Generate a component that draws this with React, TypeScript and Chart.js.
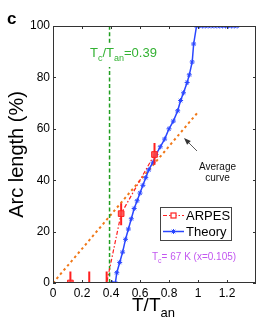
import React, { useEffect, useRef } from 'react';
import { Chart, registerables } from 'chart.js';

Chart.register(...registerables);

// ---------- data ----------
const theoryX = [0.41, 0.43, 0.44, 0.46, 0.48, 0.5, 0.52, 0.54, 0.56, 0.58, 0.6, 0.62, 0.64, 0.66, 0.69, 0.71, 0.74, 0.77, 0.8, 0.83, 0.86, 0.88, 0.9, 0.925, 0.94, 0.96, 0.97, 0.99, 1.01, 1.03, 1.05, 1.07, 1.09, 1.11, 1.13, 1.15, 1.17, 1.19, 1.21, 1.23, 1.25, 1.27];
const theoryY = [0, 0, 4, 8, 12, 17, 21, 25, 29, 32, 35, 38, 41, 44, 47, 50, 53, 56, 60, 63, 67, 71, 74, 78, 81, 86, 93, 100, 100, 100, 100, 100, 100, 100, 100, 100, 100, 100, 100, 100, 100, 100];

const arpesX = [0.12, 0.25, 0.37, 0.47, 0.7];
const arpesY = [0, 0, 0, 27, 50];
const arpesLo = [0, 0, 0, 22.5, 46];
const arpesHi = [4.5, 4.5, 4.5, 31, 54.5];
const arpesMarker = [true, false, false, true, true];

const averageX = [0, 1.0];
const averageY = [0, 66.5];

const tcRatio = 0.39;
const tcLineY = [0, 84, null, 93.5, 100];

const xTicks = [0, 0.2, 0.4, 0.6, 0.8, 1, 1.2];
const yTicks = [0, 20, 40, 60, 80, 100];
const xMax = 1.4;
const yMax = 100;

// ---------- styles ----------
const FONT = '"Liberation Sans", Arial, Helvetica, sans-serif';
const BLUE = '#2a46ff';
const RED = '#ff2020';
const ORANGE = '#f07818';
const GREEN = '#1f9e1f';
const GREEN_TEXT = '#33b233';
const PURPLE = '#c257f0';
const AXIS = '#333333';

type Part = { t: string; sub?: boolean };

function drawRich(ctx: CanvasRenderingContext2D, parts: Part[], x: number, y: number, size: number, color: string) {
  let cx = x;
  ctx.textAlign = 'left';
  ctx.textBaseline = 'alphabetic';
  ctx.fillStyle = color;
  for (const p of parts) {
    const fs = p.sub ? Math.round(size * 0.7) : size;
    ctx.font = `${fs}px ${FONT}`;
    ctx.fillText(p.t, cx, p.sub ? y + size * 0.3 : y);
    cx += ctx.measureText(p.t).width;
  }
}

function drawAsterisk(ctx: CanvasRenderingContext2D, x: number, y: number, r: number) {
  ctx.beginPath();
  ctx.moveTo(x - r, y); ctx.lineTo(x + r, y);
  ctx.moveTo(x, y - r); ctx.lineTo(x, y + r);
  const d = r * Math.SQRT1_2;
  ctx.moveTo(x - d, y - d); ctx.lineTo(x + d, y + d);
  ctx.moveTo(x - d, y + d); ctx.lineTo(x + d, y - d);
  ctx.stroke();
}

const decorPlugin = {
  id: 'decor',
  afterDatasetsDraw(chart: any) {
    const { ctx, chartArea: a, scales } = chart;
    const xs = scales.x;
    const ys = scales.y;
    ctx.save();

    // box
    ctx.strokeStyle = AXIS;
    ctx.lineWidth = 1;
    ctx.setLineDash([]);
    ctx.strokeRect(a.left + 0.5, a.top + 0.5, a.right - a.left - 1, a.bottom - a.top - 1);

    // inward ticks
    const tl = 3;
    ctx.beginPath();
    for (const v of xTicks) {
      const px = Math.round(xs.getPixelForValue(v)) + 0.5;
      ctx.moveTo(px, a.bottom); ctx.lineTo(px, a.bottom - tl);
      ctx.moveTo(px, a.top); ctx.lineTo(px, a.top + tl);
    }
    for (const v of yTicks) {
      const py = Math.round(ys.getPixelForValue(v)) + 0.5;
      ctx.moveTo(a.left, py); ctx.lineTo(a.left + tl, py);
      ctx.moveTo(a.right, py); ctx.lineTo(a.right - tl, py);
    }
    ctx.stroke();

    // panel letter
    ctx.fillStyle = '#000';
    ctx.font = `bold 17px ${FONT}`;
    ctx.textAlign = 'left';
    ctx.textBaseline = 'alphabetic';
    ctx.fillText('c', 7, 24);

    // axis titles
    drawRich(ctx, [{ t: 'T/T' }, { t: 'an', sub: true }], 132, 311, 19, '#000');
    ctx.save();
    ctx.translate(23, (a.top + a.bottom) / 2);
    ctx.rotate(-Math.PI / 2);
    ctx.font = `20px ${FONT}`;
    ctx.fillStyle = '#000';
    ctx.textAlign = 'center';
    ctx.textBaseline = 'alphabetic';
    ctx.fillText('Arc length (%)', 0, 0);
    ctx.restore();

    // Tc/Tan label
    drawRich(ctx, [{ t: 'T' }, { t: 'c', sub: true }, { t: '/T' }, { t: 'an', sub: true }, { t: '=0.39' }], 90, 57, 13, GREEN_TEXT);

    // Tc note
    drawRich(ctx, [{ t: 'T' }, { t: 'c', sub: true }, { t: '= 67 K (x=0.105)' }], 152, 260, 10, PURPLE);

    // Average curve annotation
    ctx.fillStyle = '#111';
    ctx.font = `10px ${FONT}`;
    ctx.textAlign = 'center';
    ctx.fillText('Average', 217.5, 169.5);
    ctx.fillText('curve', 217.5, 181);
    // arrow
    const ax0 = 197, ay0 = 151, ax1 = 184, ay1 = 138;
    ctx.strokeStyle = '#333';
    ctx.fillStyle = '#333';
    ctx.lineWidth = 0.8;
    ctx.beginPath();
    ctx.moveTo(ax0, ay0); ctx.lineTo(ax1 + 3, ay1 + 3);
    ctx.stroke();
    const ang = Math.atan2(ay1 - ay0, ax1 - ax0);
    const hl = 7, hw = 2.6;
    ctx.beginPath();
    ctx.moveTo(ax1, ay1);
    ctx.lineTo(ax1 - hl * Math.cos(ang) + hw * Math.sin(ang), ay1 - hl * Math.sin(ang) - hw * Math.cos(ang));
    ctx.lineTo(ax1 - hl * Math.cos(ang) - hw * Math.sin(ang), ay1 - hl * Math.sin(ang) + hw * Math.cos(ang));
    ctx.closePath();
    ctx.fill();

    // legend
    const lx = 160, ly = 207, lw = 71, lh = 33;
    ctx.fillStyle = '#fff';
    ctx.fillRect(lx, ly, lw, lh);
    ctx.strokeStyle = '#444';
    ctx.lineWidth = 1;
    ctx.strokeRect(lx + 0.5, ly + 0.5, lw, lh);
    // ARPES entry
    const r1 = 215.5, r2 = 231.5;
    ctx.strokeStyle = RED;
    ctx.lineWidth = 1.2;
    ctx.setLineDash([4, 2, 1.5, 2]);
    ctx.beginPath(); ctx.moveTo(163, r1); ctx.lineTo(184, r1); ctx.stroke();
    ctx.setLineDash([]);
    ctx.fillStyle = '#fff';
    ctx.fillRect(171, r1 - 2.5, 5, 5);
    ctx.strokeRect(171, r1 - 2.5, 5, 5);
    // Theory entry
    ctx.strokeStyle = BLUE;
    ctx.lineWidth = 1.5;
    ctx.beginPath(); ctx.moveTo(163, r2); ctx.lineTo(184, r2); ctx.stroke();
    ctx.lineWidth = 1;
    drawAsterisk(ctx, 173.5, r2, 2.5);
    ctx.fillStyle = '#000';
    ctx.font = `13px ${FONT}`;
    ctx.textAlign = 'left';
    ctx.textBaseline = 'middle';
    ctx.fillText('ARPES', 186, r1 + 0.5);
    ctx.fillText('Theory', 186, r2 + 0.5);

    ctx.restore();
  },
};

function fmt(v: number) {
  return String(Number(v.toFixed(2)));
}

export default function App() {
  const ref = useRef<HTMLCanvasElement | null>(null);

  useEffect(() => {
    if (!ref.current) return;

    const errData: any[] = [];
    arpesX.forEach((x, i) => {
      errData.push({ x, y: arpesLo[i] }, { x, y: arpesHi[i] }, { x, y: null });
    });

    const chart = new Chart(ref.current, {
      type: 'scatter',
      data: {
        datasets: [
          {
            label: 'ARPES',
            data: arpesX.map((x, i) => ({ x, y: arpesY[i] })),
            showLine: true,
            borderColor: RED,
            borderWidth: 1.2,
            borderDash: [4, 2, 1.5, 2],
            pointStyle: 'rect',
            pointRadius: arpesMarker.map((m) => (m ? 4 : 0)),
            pointBackgroundColor: 'rgba(255,70,70,0.85)',
            pointBorderColor: RED,
            pointBorderWidth: 1,
          },
          {
            label: 'errors',
            data: errData,
            showLine: true,
            spanGaps: false,
            borderColor: RED,
            borderWidth: 2,
            pointRadius: 0,
          },
          {
            label: 'Theory',
            data: theoryX.map((x, i) => ({ x, y: theoryY[i] })),
            showLine: true,
            borderColor: BLUE,
            borderWidth: 1.5,
            pointStyle: 'star',
            pointRadius: 2.5,
            pointBorderColor: BLUE,
            pointBorderWidth: 1,
          },
          {
            label: 'Tc',
            data: tcLineY.map((y) => ({ x: tcRatio, y })),
            showLine: true,
            spanGaps: false,
            borderColor: GREEN,
            borderWidth: 1.5,
            borderDash: [4, 2.5],
            pointRadius: 0,
          },
          {
            label: 'Average curve',
            data: averageX.map((x, i) => ({ x, y: averageY[i] })),
            showLine: true,
            borderColor: ORANGE,
            borderWidth: 2,
            borderDash: [2.5, 3],
            pointRadius: 0,
          },
        ],
      },
      options: {
        responsive: false,
        animation: false,
        layout: { padding: { top: 26, right: 17, left: 0, bottom: 0 } },
        plugins: { legend: { display: false }, tooltip: { enabled: false } },
        scales: {
          x: {
            type: 'linear',
            min: 0,
            max: xMax,
            afterBuildTicks: (s: any) => {
              s.ticks = xTicks.map((value) => ({ value }));
            },
            afterFit: (s: any) => {
              s.height = 44;
            },
            ticks: {
              autoSkip: false,
              maxRotation: 0,
              padding: 3,
              color: '#000',
              font: { family: FONT, size: 12 },
              callback: (v: any) => fmt(Number(v)),
            },
            grid: { display: false, drawTicks: false },
            border: { display: false },
          },
          y: {
            type: 'linear',
            min: 0,
            max: yMax,
            afterBuildTicks: (s: any) => {
              s.ticks = yTicks.map((value) => ({ value }));
            },
            afterFit: (s: any) => {
              s.width = 53;
            },
            ticks: {
              autoSkip: false,
              padding: 3,
              color: '#000',
              font: { family: FONT, size: 12 },
              callback: (v: any) => fmt(Number(v)),
            },
            grid: { display: false, drawTicks: false },
            border: { display: false },
          },
        },
      },
      plugins: [decorPlugin],
    } as any);

    return () => chart.destroy();
  }, []);

  return (
    <div style={{ position: 'fixed', left: 0, top: 0, width: 273, height: 327, background: '#fff' }}>
      <canvas ref={ref} width={273} height={327} style={{ display: 'block', width: 273, height: 327 }} />
    </div>
  );
}
